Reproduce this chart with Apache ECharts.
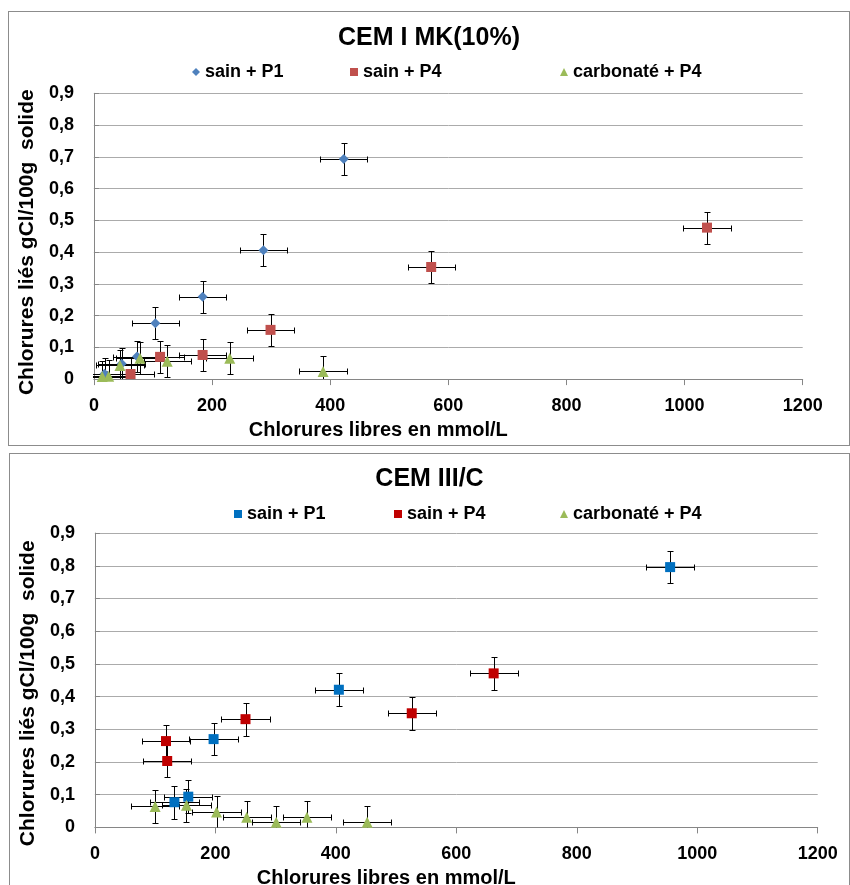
<!DOCTYPE html>
<html>
<head>
<meta charset="utf-8">
<script src="https://cdn.jsdelivr.net/npm/echarts@6/dist/echarts.min.js"></script>
<style>
  html, body { margin: 0; padding: 0; overflow: hidden; background: #fff; width: 850px; height: 885px; }
  .box { position: absolute; box-sizing: border-box; border: 1px solid #8c8c8c; background: #fff; }
  #chartTop { left: 8px; top: 11px; width: 842px; height: 435px; }
  #chartBottom { left: 9px; top: 453px; width: 841px; height: 445px; }
</style>
</head>
<body>
<div id="chartTop" class="box"></div>
<div id="chartBottom" class="box"></div>
<script>
// --- data (x = chlorures libres mmol/L, y = chlorures liés gCl/100g solide)
var seriesNames = ['sain + P1', 'sain + P4', 'carbonaté + P4'];

// CEM I MK(10%)
var mkSainP1 = [[18, 0.017], [47, 0.048], [73, 0.071], [104, 0.176], [184, 0.259], [287, 0.406], [423, 0.693]];
var mkSainP4 = [[62, 0.016], [112, 0.070], [184, 0.076], [299, 0.155], [571, 0.353], [1038, 0.477]];
var mkCarbP4 = [[14, 0.008], [25, 0.009], [44, 0.043], [78, 0.066], [124, 0.056], [230, 0.066], [388, 0.024]];

// CEM III/C
var c3SainP1 = [[132, 0.077], [155, 0.094], [197, 0.270], [405, 0.421], [955, 0.796]];
var c3SainP4 = [[118, 0.264], [120, 0.203], [250, 0.331], [526, 0.349], [662, 0.471]];
var c3CarbP4 = [[100, 0.064], [152, 0.068], [202, 0.047], [252, 0.031], [301, 0.016], [352, 0.031], [452, 0.016]];

// error bars (same for every point)
var xErr = 40;
var yErr = 0.05;

var font = "'Liberation Sans', Arial, sans-serif";

function errorBars(points) {
    return {
        type: 'custom',
        silent: true,
        clip: true,
        z: 1,
        data: points.map(function (p) { return [p[0], p[1], xErr, yErr]; }),
        encode: { x: 0, y: 1 },
        renderItem: function (params, api) {
            var x = api.value(0), y = api.value(1), ex = api.value(2), ey = api.value(3);
            var c = api.coord([x, y]);
            var l = api.coord([x - ex, y]);
            var r = api.coord([x + ex, y]);
            var t = api.coord([x, y + ey]);
            var b = api.coord([x, y - ey]);
            var cx = Math.round(c[0]) + 0.5, cy = Math.round(c[1]) + 0.5;
            var lx = Math.round(l[0]) + 0.5, rx = Math.round(r[0]) + 0.5;
            var ty = Math.round(t[1]) + 0.5, by = Math.round(b[1]) + 0.5;
            var cap = 3;
            var st = { stroke: '#000', lineWidth: 1 };
            return {
                type: 'group',
                children: [
                    { type: 'line', shape: { x1: lx, y1: cy, x2: rx, y2: cy }, style: st },
                    { type: 'line', shape: { x1: lx, y1: cy - cap, x2: lx, y2: cy + cap }, style: st },
                    { type: 'line', shape: { x1: rx, y1: cy - cap, x2: rx, y2: cy + cap }, style: st },
                    { type: 'line', shape: { x1: cx, y1: ty, x2: cx, y2: by }, style: st },
                    { type: 'line', shape: { x1: cx - cap, y1: ty, x2: cx + cap, y2: ty }, style: st },
                    { type: 'line', shape: { x1: cx - cap, y1: by, x2: cx + cap, y2: by }, style: st }
                ]
            };
        }
    };
}

function scatter(name, points, symbol, color) {
    return {
        name: name,
        type: 'scatter',
        z: 3,
        symbol: symbol,
        symbolSize: symbol === 'triangle' ? 11 : 10,
        itemStyle: { color: color, opacity: 1 },
        data: points
    };
}

// one legend per entry so the columns sit where Excel put them
function legendItem(name, icon, left) {
    return {
        left: left,
        top: 46,
        itemWidth: 8,
        itemHeight: 8,
        itemGap: 0,
        data: [{ name: name, icon: icon }],
        textStyle: { fontSize: 18, fontWeight: 'bold', color: '#000', fontFamily: font }
    };
}

function makeOption(cfg) {
    return {
        animation: false,
        textStyle: { fontFamily: font },
        title: {
            text: cfg.title,
            left: 'center',
            top: cfg.titleTop,
            textStyle: { fontSize: 25, fontWeight: 'bold', color: '#000', fontFamily: font }
        },
        legend: [
            legendItem(seriesNames[0], cfg.symbols[0], cfg.legendLeft[0]),
            legendItem(seriesNames[1], cfg.symbols[1], cfg.legendLeft[1]),
            legendItem(seriesNames[2], cfg.symbols[2], cfg.legendLeft[2])
        ],
        grid: cfg.grid,
        xAxis: {
            type: 'value',
            min: 0,
            max: 1200,
            interval: 200,
            name: 'Chlorures libres en mmol/L',
            nameLocation: 'middle',
            nameGap: cfg.nameGapX,
            nameTextStyle: { fontSize: 20, fontWeight: 'bold', color: '#000', padding: [0, 140, 0, 0] },
            axisLine: { lineStyle: { color: '#868686' } },
            axisTick: { inside: false, length: 6, lineStyle: { color: '#868686' } },
            axisLabel: {
                fontSize: 18, fontWeight: 'bold', color: '#000', margin: 18,
                formatter: function (v) { return String(v); }
            },
            splitLine: { show: false }
        },
        yAxis: {
            type: 'value',
            min: 0,
            max: 0.9,
            interval: 0.1,
            name: 'Chlorures liés gCl/100g  solide',
            nameLocation: 'middle',
            nameRotate: 90,
            nameGap: cfg.nameGapY,
            nameTextStyle: { fontSize: 21, fontWeight: 'bold', color: '#000', padding: [0, cfg.namePadY, 0, 0] },
            axisLine: { show: true, lineStyle: { color: '#868686' } },
            axisTick: { show: true, inside: true, length: 5, lineStyle: { color: '#868686' } },
            axisLabel: {
                fontSize: 18, fontWeight: 'bold', color: '#000', margin: 20,
                formatter: function (v) { return v === 0 ? '0' : v.toFixed(1).replace('.', ','); }
            },
            splitLine: { show: true, lineStyle: { color: '#ababab' } }
        },
        series: [
            errorBars(cfg.data[0]),
            errorBars(cfg.data[1]),
            errorBars(cfg.data[2]),
            scatter(seriesNames[0], cfg.data[0], cfg.symbols[0], cfg.colors[0]),
            scatter(seriesNames[1], cfg.data[1], cfg.symbols[1], cfg.colors[1]),
            scatter(seriesNames[2], cfg.data[2], cfg.symbols[2], cfg.colors[2])
        ]
    };
}

var chartTop = echarts.init(document.getElementById('chartTop'));
chartTop.setOption(makeOption({
    title: 'CEM I MK(10%)',
    titleTop: 9,
    legendLeft: [178, 336, 546],
    grid: { left: 84.7, top: 81.3, width: 709, height: 293.2 },
    nameGapX: 35,
    nameGapY: 45,
    namePadY: 12,
    symbols: ['diamond', 'rect', 'triangle'],
    colors: ['#4F81BD', '#C0504D', '#9BBB59'],
    data: [mkSainP1, mkSainP4, mkCarbP4]
}));

var chartBottom = echarts.init(document.getElementById('chartBottom'));
chartBottom.setOption(makeOption({
    title: 'CEM III/C',
    titleTop: 8,
    legendLeft: [219, 379, 545],
    grid: { left: 79.3, top: 79.1, width: 728.4, height: 294.3 },
    nameGapX: 32,
    nameGapY: 52,
    namePadY: 26,
    symbols: ['rect', 'rect', 'triangle'],
    colors: ['#0070C0', '#C00000', '#9BBB59'],
    data: [c3SainP1, c3SainP4, c3CarbP4]
}));
</script>
</body>
</html>
